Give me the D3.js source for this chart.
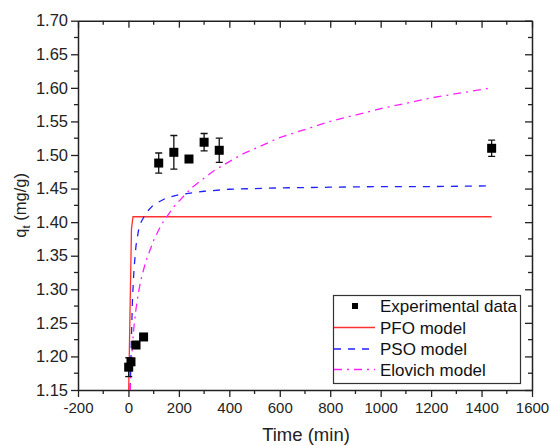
<!DOCTYPE html>
<html><head><meta charset="utf-8">
<script src="https://cdn.jsdelivr.net/npm/d3@7"></script>
<style>body{margin:0;background:#fff}svg{display:block}text{font-family:"Liberation Sans",Arial,sans-serif}</style>
</head><body>
<svg id="c" width="550" height="446"></svg>
<script>
// Experimental data
const expTime = [1, 10, 30, 60, 120, 180, 240, 300, 360, 1440];
const expQ    = [1.184, 1.192, 1.217, 1.229, 1.488, 1.504, 1.494, 1.519, 1.507, 1.510];
const expErr  = [0.014, 0.005, 0.005, 0.003, 0.015, 0.025, 0.004, 0.013, 0.018, 0.012];
// Model curves
const pfoTime = [1, 5, 12, 18, 1440];
const pfoQ    = [1.15, 1.24, 1.39, 1.408, 1.408];
const psoTime = [7, 12, 16, 22, 30, 40, 50, 70, 100, 150, 200, 300, 400, 600, 800, 1000, 1200, 1440];
const psoQ    = [1.15, 1.23, 1.285, 1.33, 1.365, 1.388, 1.40, 1.414, 1.426, 1.436, 1.441, 1.446, 1.449, 1.451, 1.452, 1.453, 1.453, 1.454];
const eloTime = [7, 8, 12, 16, 22, 30, 40, 50, 70, 100, 130, 180, 250, 340, 450, 600, 800, 1000, 1200, 1440];
const eloQ    = [1.148, 1.159, 1.193, 1.218, 1.245, 1.271, 1.296, 1.315, 1.343, 1.373, 1.396, 1.423, 1.451, 1.477, 1.501, 1.526, 1.550, 1.569, 1.585, 1.600];
const xTicks = [-200, 0, 200, 400, 600, 800, 1000, 1200, 1400, 1600];
const yTicks = [1.15, 1.20, 1.25, 1.30, 1.35, 1.40, 1.45, 1.50, 1.55, 1.60, 1.65, 1.70];
const legendLabels = ["Experimental data", "PFO model", "PSO model", "Elovich model"];

const svg = d3.select("#c");
const L = 78, R = 532, T = 20.7, B = 390;
const x = d3.scaleLinear().domain([-200, 1600]).range([L, R]);
const y = d3.scaleLinear().domain([1.15, 1.70]).range([B, T]);
const axisColor = "#222";

svg.append("defs").append("clipPath").attr("id", "clip")
  .append("rect").attr("x", L).attr("y", T).attr("width", R - L).attr("height", B - T);

const xMinor = d3.range(-200, 1601, 100);
const yMinor = d3.range(0, 12 * 2 - 1).map(i => 1.15 + i * 0.025);

// bottom axis
const gb = svg.append("g").attr("transform", `translate(0,${B})`)
  .call(d3.axisBottom(x).tickValues(xTicks).tickSize(7).tickSizeOuter(0).tickPadding(5).tickFormat(d => String(d)));
gb.selectAll(".tick text").attr("font-size", 15).attr("fill", "#222");
gb.append("g").selectAll("line").data(xMinor.filter(v => !xTicks.includes(v))).join("line")
  .attr("x1", d => x(d)).attr("x2", d => x(d)).attr("y1", 0).attr("y2", 4).attr("stroke", axisColor).attr("stroke-width", 1.3);
// left axis
const gl = svg.append("g").attr("transform", `translate(${L},0)`)
  .call(d3.axisLeft(y).tickValues(yTicks).tickSize(7).tickSizeOuter(0).tickPadding(3).tickFormat(d3.format(".2f")));
gl.selectAll(".tick text").attr("font-size", 16.5).attr("fill", "#222");
gl.append("g").selectAll("line").data(yMinor.filter((v, i) => i % 2 === 1)).join("line")
  .attr("y1", d => y(d)).attr("y2", d => y(d)).attr("x1", 0).attr("x2", -4).attr("stroke", axisColor).attr("stroke-width", 1.3);
// top axis (inward ticks)
const gt = svg.append("g").attr("transform", `translate(0,${T})`)
  .call(d3.axisBottom(x).tickValues(xTicks).tickSize(7).tickSizeOuter(0).tickFormat(""));
gt.append("g").selectAll("line").data(xMinor.filter(v => !xTicks.includes(v))).join("line")
  .attr("x1", d => x(d)).attr("x2", d => x(d)).attr("y1", 0).attr("y2", 4).attr("stroke", axisColor).attr("stroke-width", 1.3);
// right axis (inward ticks)
const gr = svg.append("g").attr("transform", `translate(${R},0)`)
  .call(d3.axisLeft(y).tickValues(yTicks).tickSize(7).tickSizeOuter(0).tickFormat(""));
gr.append("g").selectAll("line").data(yMinor.filter((v, i) => i % 2 === 1)).join("line")
  .attr("y1", d => y(d)).attr("y2", d => y(d)).attr("x1", 0).attr("x2", -4).attr("stroke", axisColor).attr("stroke-width", 1.3);
[gb, gl, gt, gr].forEach(g => {
  g.selectAll(".domain").attr("stroke", axisColor).attr("stroke-width", 1.5);
  g.selectAll(".tick line").attr("stroke", axisColor).attr("stroke-width", 1.3);
});

// curves
const line = d3.line().x(d => x(d[0])).y(d => y(d[1]));
const plot = svg.append("g").attr("clip-path", "url(#clip)");
const models = [
  {t: pfoTime, q: pfoQ, color: "#ff3030", dash: null},
  {t: psoTime, q: psoQ, color: "#2020ff", dash: "7,7"},
  {t: eloTime, q: eloQ, color: "#ff20ff", dash: "8,5,2,5"}
];
models.forEach(m => {
  plot.append("path").attr("d", line(m.t.map((t, i) => [t, m.q[i]])))
    .attr("fill", "none").attr("stroke", m.color).attr("stroke-width", 1.3)
    .attr("stroke-dasharray", m.dash);
});

// experimental points with error bars
const pts = expTime.map((t, i) => ({t, q: expQ[i], e: expErr[i]}));
const eb = plot.append("g").attr("stroke", "#111").attr("stroke-width", 1.3);
pts.forEach(p => {
  const cx = x(p.t), y1 = y(p.q + p.e), y2 = y(p.q - p.e);
  eb.append("line").attr("x1", cx).attr("x2", cx).attr("y1", y1).attr("y2", y2);
  eb.append("line").attr("x1", cx - 3.5).attr("x2", cx + 3.5).attr("y1", y1).attr("y2", y1);
  eb.append("line").attr("x1", cx - 3.5).attr("x2", cx + 3.5).attr("y1", y2).attr("y2", y2);
});
plot.append("g").selectAll("rect").data(pts).join("rect")
  .attr("x", d => x(d.t) - 4.5).attr("y", d => y(d.q) - 4.5).attr("width", 9).attr("height", 9).attr("fill", "#000");

// legend
const lg = svg.append("g");
lg.append("rect").attr("x", 333.5).attr("y", 295.5).attr("width", 187).attr("height", 88)
  .attr("fill", "#fff").attr("stroke", "#333").attr("stroke-width", 1.2);
const rowY = [306, 327.5, 349, 369.5];
lg.append("rect").attr("x", 352).attr("y", rowY[0] - 3).attr("width", 6).attr("height", 6).attr("fill", "#000");
models.forEach((m, i) => {
  lg.append("line").attr("x1", 334).attr("x2", 375).attr("y1", rowY[i + 1]).attr("y2", rowY[i + 1])
    .attr("stroke", m.color).attr("stroke-width", 1.3).attr("stroke-dasharray", m.dash);
});
legendLabels.forEach((s, i) => {
  lg.append("text").attr("x", 380).attr("y", rowY[i] + 6).attr("font-size", 17).attr("fill", "#111").text(s);
});

// axis titles
svg.append("text").attr("x", (L + R) / 2 + 1).attr("y", 441).attr("text-anchor", "middle")
  .attr("font-size", 18.5).attr("fill", "#222").text("Time (min)");
const yt = svg.append("text").attr("transform", `translate(26,${(T + B) / 2}) rotate(-90)`)
  .attr("text-anchor", "middle").attr("font-size", 16.5).attr("fill", "#222");
yt.append("tspan").text("q");
yt.append("tspan").attr("font-size", 11.5).attr("dy", 4).text("t");
yt.append("tspan").attr("dy", -4).text(" (mg/g)");
</script>
</body></html>
